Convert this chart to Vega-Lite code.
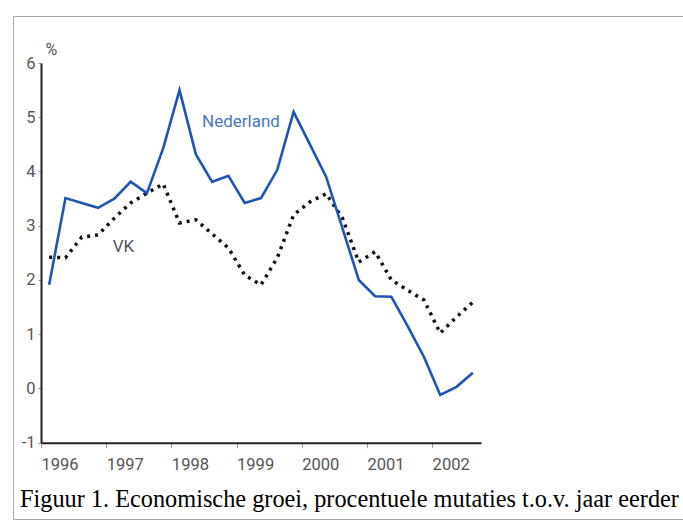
{
  "$schema": "https://vega.github.io/schema/vega-lite/v6.json",
  "autosize": "none",
  "width": 670,
  "height": 503,
  "padding": {"left": 13, "top": 16, "right": 0, "bottom": 4},
  "background": "white",
  "config": {
    "view": {"stroke": "#a8a8a8", "strokeWidth": 1},
    "axis": {
      "labelFont": "Roboto",
      "labelFontSize": 16.5,
      "labelColor": "#555555",
      "titleFont": "Roboto",
      "grid": false,
      "domainColor": "#222222",
      "domainWidth": 2,
      "tickColor": "#999999",
      "tickWidth": 1
    }
  },
  "title": {
    "text": "Figuur 1. Economische groei, procentuele mutaties t.o.v. jaar eerder",
    "orient": "bottom",
    "anchor": "start",
    "frame": "group",
    "font": "Liberation Serif",
    "fontSize": 24.3,
    "fontWeight": "normal",
    "color": "#000000",
    "baseline": "alphabetic",
    "offset": -12,
    "dx": 7
  },
  "datasets": {
    "groei": [
      {"t": 1996.125, "serie": "Nederland", "v": 1.91},
      {"t": 1996.375, "serie": "Nederland", "v": 3.51},
      {"t": 1996.625, "serie": "Nederland", "v": 3.42},
      {"t": 1996.875, "serie": "Nederland", "v": 3.33},
      {"t": 1997.125, "serie": "Nederland", "v": 3.5},
      {"t": 1997.375, "serie": "Nederland", "v": 3.81},
      {"t": 1997.625, "serie": "Nederland", "v": 3.6},
      {"t": 1997.875, "serie": "Nederland", "v": 4.43},
      {"t": 1998.125, "serie": "Nederland", "v": 5.5},
      {"t": 1998.375, "serie": "Nederland", "v": 4.32},
      {"t": 1998.625, "serie": "Nederland", "v": 3.81},
      {"t": 1998.875, "serie": "Nederland", "v": 3.92},
      {"t": 1999.125, "serie": "Nederland", "v": 3.42},
      {"t": 1999.375, "serie": "Nederland", "v": 3.51},
      {"t": 1999.625, "serie": "Nederland", "v": 4.03},
      {"t": 1999.875, "serie": "Nederland", "v": 5.1},
      {"t": 2000.125, "serie": "Nederland", "v": 4.5},
      {"t": 2000.375, "serie": "Nederland", "v": 3.9},
      {"t": 2000.625, "serie": "Nederland", "v": 2.95},
      {"t": 2000.875, "serie": "Nederland", "v": 2.0},
      {"t": 2001.125, "serie": "Nederland", "v": 1.7},
      {"t": 2001.375, "serie": "Nederland", "v": 1.69},
      {"t": 2001.625, "serie": "Nederland", "v": 1.15},
      {"t": 2001.875, "serie": "Nederland", "v": 0.58},
      {"t": 2002.125, "serie": "Nederland", "v": -0.12},
      {"t": 2002.375, "serie": "Nederland", "v": 0.03},
      {"t": 2002.625, "serie": "Nederland", "v": 0.29},
      {"t": 1996.125, "serie": "VK", "v": 2.42},
      {"t": 1996.375, "serie": "VK", "v": 2.41},
      {"t": 1996.625, "serie": "VK", "v": 2.79},
      {"t": 1996.875, "serie": "VK", "v": 2.83},
      {"t": 1997.125, "serie": "VK", "v": 3.14},
      {"t": 1997.375, "serie": "VK", "v": 3.42},
      {"t": 1997.625, "serie": "VK", "v": 3.6},
      {"t": 1997.875, "serie": "VK", "v": 3.77},
      {"t": 1998.125, "serie": "VK", "v": 3.05},
      {"t": 1998.375, "serie": "VK", "v": 3.11},
      {"t": 1998.625, "serie": "VK", "v": 2.85},
      {"t": 1998.875, "serie": "VK", "v": 2.59},
      {"t": 1999.125, "serie": "VK", "v": 2.09},
      {"t": 1999.375, "serie": "VK", "v": 1.91},
      {"t": 1999.625, "serie": "VK", "v": 2.41},
      {"t": 1999.875, "serie": "VK", "v": 3.2},
      {"t": 2000.125, "serie": "VK", "v": 3.44},
      {"t": 2000.375, "serie": "VK", "v": 3.59},
      {"t": 2000.625, "serie": "VK", "v": 3.14},
      {"t": 2000.875, "serie": "VK", "v": 2.33},
      {"t": 2001.125, "serie": "VK", "v": 2.52},
      {"t": 2001.375, "serie": "VK", "v": 2.0},
      {"t": 2001.625, "serie": "VK", "v": 1.81},
      {"t": 2001.875, "serie": "VK", "v": 1.63},
      {"t": 2002.125, "serie": "VK", "v": 1.02},
      {"t": 2002.375, "serie": "VK", "v": 1.32},
      {"t": 2002.625, "serie": "VK", "v": 1.59}
    ],
    "labels": [
      {"t": 1998.47, "v": 4.91, "label": "Nederland", "serie": "Nederland"},
      {"t": 1997.1, "v": 2.61, "label": "VK", "serie": "VK"}
    ]
  },
  "encoding": {
    "x": {
      "field": "t",
      "type": "quantitative",
      "scale": {"domain": [1996, 2002.75], "range": [28, 468], "nice": false, "zero": false},
      "axis": {
        "title": null,
        "values": [1996, 1997, 1998, 1999, 2000, 2001, 2002],
        "labelExpr": "'' + datum.value",
        "labelAlign": "left",
        "labelBaseline": "top",
        "labelPadding": 9,
        "tickSize": 5,
        "offset": -76.3
      }
    },
    "y": {
      "field": "v",
      "type": "quantitative",
      "scale": {"domain": [-1, 6], "range": [426.7, 47], "nice": false, "zero": false},
      "axis": {
        "title": "%",
        "titleAngle": 0,
        "titleAlign": "left",
        "titleBaseline": "bottom",
        "titleX": 4,
        "titleY": 41,
        "titleFontSize": 16,
        "titleFontWeight": "normal",
        "titleColor": "#555555",
        "values": [-1, 0, 1, 2, 3, 4, 5, 6],
        "labelExpr": "'' + datum.value",
        "tickSize": 3,
        "labelPadding": 3,
        "offset": -28
      }
    }
  },
  "layer": [
    {
      "data": {"name": "groei"},
      "transform": [{"filter": "datum.serie === 'VK'"}],
      "mark": {"type": "line", "color": "#111111", "strokeWidth": 3.5, "strokeDash": [3, 5], "strokeCap": "butt"},
      "encoding": {}
    },
    {
      "data": {"name": "groei"},
      "transform": [{"filter": "datum.serie === 'Nederland'"}],
      "mark": {"type": "line", "color": "#1f55b5", "strokeWidth": 2.6},
      "encoding": {}
    },
    {
      "data": {"name": "labels"},
      "mark": {"type": "text", "align": "left", "baseline": "middle", "font": "Roboto", "fontSize": 17},
      "encoding": {
        "text": {"field": "label"},
        "color": {
          "field": "serie",
          "type": "nominal",
          "scale": {"domain": ["Nederland", "VK"], "range": ["#4a78c4", "#555555"]},
          "legend": null
        }
      }
    }
  ]
}
